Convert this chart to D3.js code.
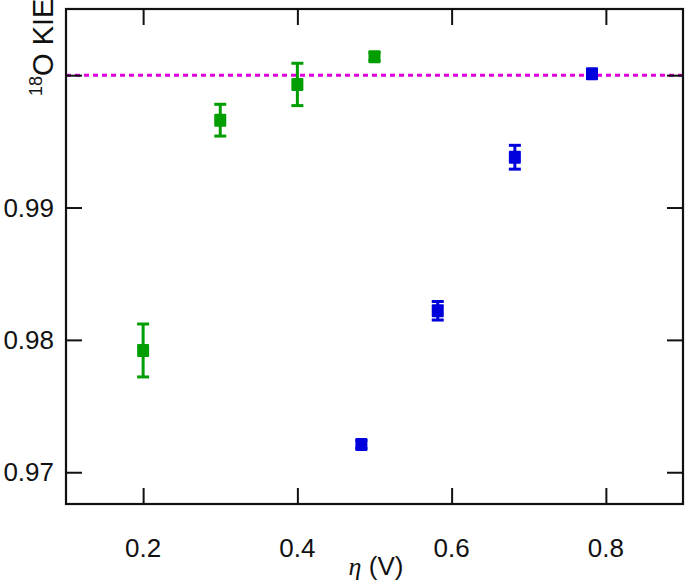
<!DOCTYPE html>
<html>
<head>
<meta charset="utf-8">
<script src="https://cdn.jsdelivr.net/npm/d3@7"></script>
<style>
  html, body { margin: 0; padding: 0; background: #fff; }
  svg { display: block; font-family: "Liberation Sans", Arial, Helvetica, sans-serif; }
</style>
</head>
<body>
<svg id="chart" width="685" height="584"></svg>
<script>
// green series (lower overpotentials)
var aGreenEta = [0.2, 0.3, 0.4, 0.5];
var aGreenKie = [0.9792, 0.9966, 0.9993, 1.0014];
var aGreenErr = [0.0020, 0.0012, 0.0016, 0.0003];

// blue series
var aBlueEta = [0.483, 0.582, 0.682, 0.782];
var aBlueKie = [0.9721, 0.9822, 0.9938, 1.0001];
var aBlueErr = [0.0003, 0.0007, 0.0009, 0.0003];

var aXTicks = [0.2, 0.4, 0.6, 0.8];
var aYTicks = [0.97, 0.98, 0.99, 1.00];
var aYTickLabels = ["0.97", "0.98", "0.99", ""];
var fReference = 1.0;

var oMargin = { left: 66, top: 9, right: 2, bottom: 80 };
var iWidth = 685, iHeight = 584;

var svg = d3.select("#chart");

var x = d3.scaleLinear().domain([0.1, 0.9]).range([oMargin.left, iWidth - oMargin.right]);
var y = d3.scaleLinear().domain([0.9676, 1.005]).range([iHeight - oMargin.bottom, oMargin.top]);

var x0 = x.range()[0], x1 = x.range()[1];
var y0 = y.range()[0], y1 = y.range()[1];

// reference line at KIE = 1
svg.append("line")
  .attr("x1", x0).attr("x2", x1)
  .attr("y1", y(fReference)).attr("y2", y(fReference))
  .attr("stroke", "#dd00dd")
  .attr("stroke-width", 3)
  .attr("stroke-dasharray", "5,4");

// axes with inward ticks
var iTick = 16;
var gBottom = svg.append("g").attr("transform", "translate(0," + y0 + ")")
  .call(d3.axisBottom(x).tickValues(aXTicks).tickSizeInner(-iTick).tickSizeOuter(0).tickFormat(""));
var gTop = svg.append("g").attr("transform", "translate(0," + y1 + ")")
  .call(d3.axisTop(x).tickValues(aXTicks).tickSizeInner(-iTick).tickSizeOuter(0).tickFormat(""));
var gLeft = svg.append("g").attr("transform", "translate(" + x0 + ",0)")
  .call(d3.axisLeft(y).tickValues(aYTicks).tickSizeInner(-iTick).tickSizeOuter(0).tickFormat(""));
var gRight = svg.append("g").attr("transform", "translate(" + x1 + ",0)")
  .call(d3.axisRight(y).tickValues(aYTicks).tickSizeInner(-iTick).tickSizeOuter(0).tickFormat(""));

[gBottom, gTop, gLeft, gRight].forEach(function(g) {
  g.select(".domain").remove();
  g.selectAll(".tick line").attr("stroke", "#111").attr("stroke-width", 2);
});

// frame
svg.append("rect")
  .attr("x", x0).attr("y", y1)
  .attr("width", x1 - x0).attr("height", y0 - y1)
  .attr("fill", "none").attr("stroke", "#111").attr("stroke-width", 2.2);

// tick labels
svg.append("g").selectAll("text").data(aXTicks).enter().append("text")
  .attr("x", function(d) { return x(d); })
  .attr("y", y0 + 53)
  .attr("text-anchor", "middle")
  .attr("font-size", 26)
  .attr("fill", "#111")
  .text(function(d) { return d3.format(".1f")(d); });

svg.append("g").selectAll("text").data(aYTicks).enter().append("text")
  .attr("x", 54)
  .attr("y", function(d) { return y(d) + 9; })
  .attr("text-anchor", "end")
  .attr("font-size", 26)
  .attr("fill", "#111")
  .text(function(d, i) { return aYTickLabels[i]; });

// axis titles
var tX = svg.append("text")
  .attr("x", 376).attr("y", 575)
  .attr("text-anchor", "middle")
  .attr("font-size", 26)
  .attr("fill", "#111");
tX.append("tspan").attr("font-family", "'Liberation Serif', 'DejaVu Serif', serif").attr("font-style", "italic").text("η");
tX.append("tspan").text(" (V)");

var tY = svg.append("text")
  .attr("transform", "translate(53,96) rotate(-90)")
  .attr("font-size", 29)
  .attr("fill", "#111");
tY.append("tspan").attr("font-size", 18).attr("dy", -11).text("18");
tY.append("tspan").attr("dy", 11).text("O KIE");

// data series with error bars
function drawSeries(aEta, aKie, aErr, sColor) {
  var aData = aEta.map(function(d, i) { return { eta: d, kie: aKie[i], err: aErr[i] }; });
  var g = svg.append("g");
  var iCap = 6;
  var gPts = g.selectAll("g").data(aData).enter().append("g");
  gPts.append("line")
    .attr("x1", function(d) { return x(d.eta); }).attr("x2", function(d) { return x(d.eta); })
    .attr("y1", function(d) { return y(d.kie - d.err); }).attr("y2", function(d) { return y(d.kie + d.err); })
    .attr("stroke", sColor).attr("stroke-width", 3);
  [-1, 1].forEach(function(s) {
    gPts.append("line")
      .attr("x1", function(d) { return x(d.eta) - iCap; }).attr("x2", function(d) { return x(d.eta) + iCap; })
      .attr("y1", function(d) { return y(d.kie + s * d.err); }).attr("y2", function(d) { return y(d.kie + s * d.err); })
      .attr("stroke", sColor).attr("stroke-width", 3);
  });
  gPts.append("rect")
    .attr("x", function(d) { return x(d.eta) - 6; })
    .attr("y", function(d) { return y(d.kie) - 6.5; })
    .attr("width", 12).attr("height", 13)
    .attr("rx", 1)
    .attr("fill", sColor);
}

drawSeries(aGreenEta, aGreenKie, aGreenErr, "#009e00");
drawSeries(aBlueEta, aBlueKie, aBlueErr, "#0000dd");
</script>
</body>
</html>
